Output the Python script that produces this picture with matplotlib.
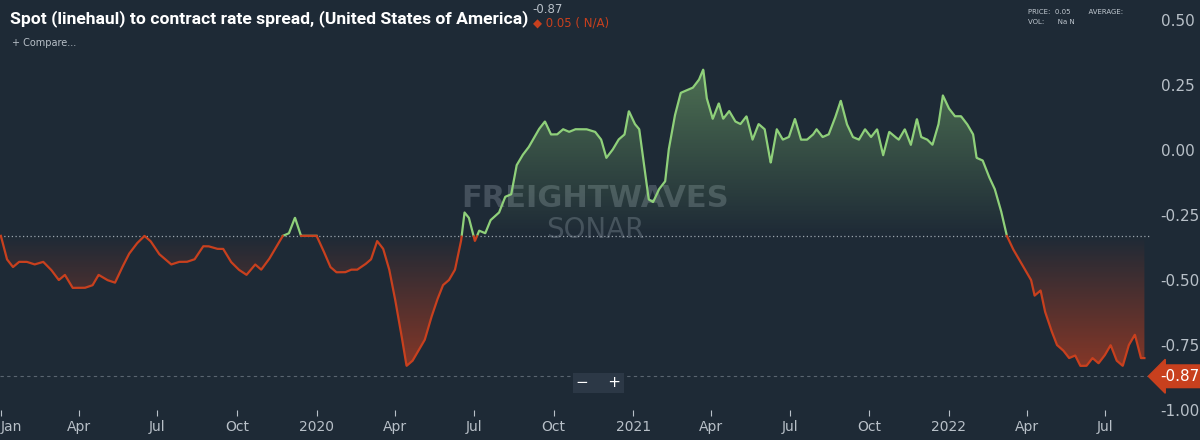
import numpy as np
import pandas as pd
import matplotlib.pyplot as plt
import matplotlib.dates as mdates
from matplotlib.colors import LinearSegmentedColormap
from matplotlib.path import Path

day = [
    0, 7, 14, 21, 30, 39, 49, 58, 67, 74, 83, 97, 106, 113, 123, 132, 139, 148, 157, 166, 173,
    183, 190, 197, 206, 215, 224, 234, 240, 250, 257, 266, 275, 284, 294, 301, 310, 317, 326,
    333, 340, 347, 356, 365, 372, 381, 388, 398, 405, 412, 421, 428, 435, 442, 449, 455, 462,
    469, 476, 483, 490, 497, 504, 511, 518, 525, 532, 536, 541, 548, 553, 560, 566, 576, 583,
    590, 596, 603, 610, 617, 622, 629, 636, 643, 650, 657, 664, 670, 677, 687, 694, 700, 707,
    714, 721, 726, 733, 738, 744, 749, 754, 761, 768, 772, 779, 786, 793, 800, 807, 812, 816,
    823, 830, 835, 842, 849, 855, 862, 869, 876, 883, 890, 897, 904, 911, 918, 925, 932, 939,
    943, 950, 957, 964, 971, 978, 985, 992, 999, 1006, 1013, 1020, 1027, 1034, 1038, 1045,
    1052, 1059, 1064, 1071, 1077, 1084, 1089, 1096, 1103, 1110, 1117, 1124, 1128, 1135, 1142,
    1149, 1156, 1163, 1170, 1177, 1184, 1191, 1195, 1202, 1207, 1214, 1221, 1228, 1235, 1242,
    1248, 1255, 1262, 1269, 1276, 1283, 1290, 1297, 1304, 1311, 1318, 1322,
]
spread = [
    -0.33, -0.42, -0.45, -0.43, -0.43, -0.44, -0.43, -0.46, -0.50, -0.48, -0.53, -0.53, -0.52,
    -0.48, -0.50, -0.51, -0.46, -0.40, -0.36, -0.33, -0.35, -0.40, -0.42, -0.44, -0.43, -0.43,
    -0.42, -0.37, -0.37, -0.38, -0.38, -0.43, -0.46, -0.48, -0.44, -0.46, -0.42, -0.38, -0.33,
    -0.32, -0.26, -0.33, -0.33, -0.33, -0.38, -0.45, -0.47, -0.47, -0.46, -0.46, -0.44, -0.42,
    -0.35, -0.38, -0.46, -0.56, -0.69, -0.83, -0.81, -0.77, -0.73, -0.65, -0.58, -0.52, -0.50,
    -0.46, -0.35, -0.24, -0.26, -0.35, -0.31, -0.32, -0.27, -0.24, -0.18, -0.17, -0.06, -0.02,
    0.01, 0.05, 0.08, 0.11, 0.06, 0.06, 0.08, 0.07, 0.08, 0.08, 0.08, 0.07, 0.04, -0.03, 0.00,
    0.04, 0.06, 0.15, 0.10, 0.08, -0.07, -0.19, -0.20, -0.15, -0.12, 0.00, 0.13, 0.22, 0.23,
    0.24, 0.27, 0.31, 0.20, 0.12, 0.18, 0.12, 0.15, 0.11, 0.10, 0.13, 0.04, 0.10, 0.08, -0.05,
    0.08, 0.04, 0.05, 0.12, 0.04, 0.04, 0.06, 0.08, 0.05, 0.06, 0.12, 0.19, 0.10, 0.05, 0.04,
    0.08, 0.05, 0.08, -0.02, 0.07, 0.05, 0.04, 0.08, 0.02, 0.12, 0.05, 0.04, 0.02, 0.10, 0.21,
    0.16, 0.13, 0.13, 0.10, 0.06, -0.03, -0.04, -0.10, -0.15, -0.23, -0.33, -0.38, -0.42, -0.46,
    -0.50, -0.56, -0.54, -0.62, -0.69, -0.75, -0.77, -0.80, -0.79, -0.83, -0.83, -0.80, -0.82,
    -0.79, -0.75, -0.81, -0.83, -0.75, -0.71, -0.80, -0.80,
]
n = min(len(day), len(spread))
dates = pd.Timestamp("2019-01-01") + pd.to_timedelta(day[:n], unit="D")
baseline = -0.33
last_label = -0.87

BG = "#1e2a36"
GREEN = "#8fd07a"
RED = "#c8401e"
TXT = "#b8c0c8"

fig = plt.figure(figsize=(12, 4.4), dpi=100, facecolor=BG)
ax = fig.add_axes([0, 0.068, 0.958, 0.932], facecolor=BG)
x = mdates.date2num(dates)
y = np.array(spread[:n])
x0, x1 = mdates.date2num(pd.Timestamp("2018-12-31")), mdates.date2num(pd.Timestamp("2022-08-21"))
ax.set_xlim(x0, x1)
ax.set_ylim(-1.0, 0.577)

# gradient fills, strongest away from the baseline
for side in ("up", "down"):
    cond = y >= baseline if side == "up" else y <= baseline
    poly = ax.fill_between(x, y, baseline, where=cond, interpolate=True, color="none", lw=0)
    if side == "up":
        cmap = LinearSegmentedColormap.from_list("g", [(0.56, 0.82, 0.48, 0.0), (0.56, 0.82, 0.48, 0.45)])
        grad = np.linspace(1, 0, 256).reshape(-1, 1)
        top, bot = 0.35, baseline
    else:
        cmap = LinearSegmentedColormap.from_list("r", [(0.78, 0.25, 0.12, 0.0), (0.78, 0.25, 0.12, 0.75)])
        grad = np.linspace(0, 1, 256).reshape(-1, 1)
        top, bot = baseline, -0.95
    im = ax.imshow(grad, cmap=cmap, aspect="auto", extent=[x0, x1, bot, top], origin="upper", zorder=1)
    paths = poly.get_paths()
    im.set_clip_path(Path.make_compound_path(*paths), transform=ax.transData)

# line coloured by side of baseline
xf = np.linspace(x[0], x[-1], 5000)
yf = np.interp(xf, x, y)
ax.plot(xf, np.where(yf >= baseline, yf, np.nan), color=GREEN, lw=1.6, zorder=3)
ax.plot(xf, np.where(yf <= baseline, yf, np.nan), color=RED, lw=1.6, zorder=3)

ax.axhline(baseline, color="#9aa4ad", lw=0.9, ls=(0, (1, 2)), zorder=2)
ax.axhline(last_label, color="#5a6570", lw=0.8, ls=(0, (3, 3)), zorder=2)

# watermark
ax.text(0.518, 0.515, "FREIGHTWAVES", transform=ax.transAxes, ha="center", va="center",
        fontsize=22, color="#6a7682", alpha=0.5, fontweight="bold", zorder=0)
ax.text(0.518, 0.44, "SONAR", transform=ax.transAxes, ha="center", va="center",
        fontsize=20, color="#6a7682", alpha=0.5, zorder=0)

# axes styling
for s in ax.spines.values():
    s.set_visible(False)
ax.yaxis.tick_right()
ax.set_yticks([0.5, 0.25, 0.0, -0.25, -0.5, -0.75, -1.0])
ax.set_yticklabels(["0.50", "0.25", "0.00", "-0.25", "-0.50", "-0.75", "-1.00"])
ax.tick_params(axis="y", colors=TXT, labelsize=11, length=0, pad=8)
ticks = pd.to_datetime(["2019-01-01", "2019-04-01", "2019-07-01", "2019-10-01", "2020-01-01",
                        "2020-04-01", "2020-07-01", "2020-10-01", "2021-01-01", "2021-04-01",
                        "2021-07-01", "2021-10-01", "2022-01-01", "2022-04-01", "2022-07-01"])
labels = ["Jan", "Apr", "Jul", "Oct", "2020", "Apr", "Jul", "Oct", "2021", "Apr", "Jul", "Oct", "2022", "Apr", "Jul"]
ax.set_xticks(mdates.date2num(ticks))
ax.set_xticklabels(labels)
ax.tick_params(axis="x", colors=TXT, labelsize=10, length=4, pad=3)
ax.get_xticklabels()[0].set_horizontalalignment("left")

# last value tag
ax.annotate(f"{last_label:.2f}", xy=(1.0, last_label), xycoords=("axes fraction", "data"),
            xytext=(8, 0), textcoords="offset points", ha="left", va="center", color="white",
            fontsize=11, bbox=dict(boxstyle="larrow,pad=0.25", fc=RED, ec=RED), annotation_clip=False)

# header
fig.text(0.008, 0.958, "Spot (linehaul) to contract rate spread, (United States of America)",
         color="white", fontsize=12.6, fontweight="bold", va="center",
         fontfamily=["Liberation Sans Narrow", "Roboto"])
fig.text(0.444, 0.978, "-0.87", color=TXT, fontsize=8.5, va="center")
fig.text(0.444, 0.948, "\u25c6 0.05 ( N/A)", color=RED, fontsize=8.5, va="center")
fig.text(0.01, 0.902, "+ Compare...", color=TXT, fontsize=7, va="center")
fig.text(0.857, 0.972, "PRICE:  0.05        AVERAGE:", color="#c0c8d0", fontsize=5, va="center")
fig.text(0.857, 0.950, "VOL:      Na N", color="#c0c8d0", fontsize=5, va="center")
fig.text(0.48, 0.13, "\u2212    +", color="white", fontsize=11, va="center",
         bbox=dict(fc="#2c3846", ec="none", pad=2))

fig.savefig("out.png", dpi=100, facecolor=BG)
